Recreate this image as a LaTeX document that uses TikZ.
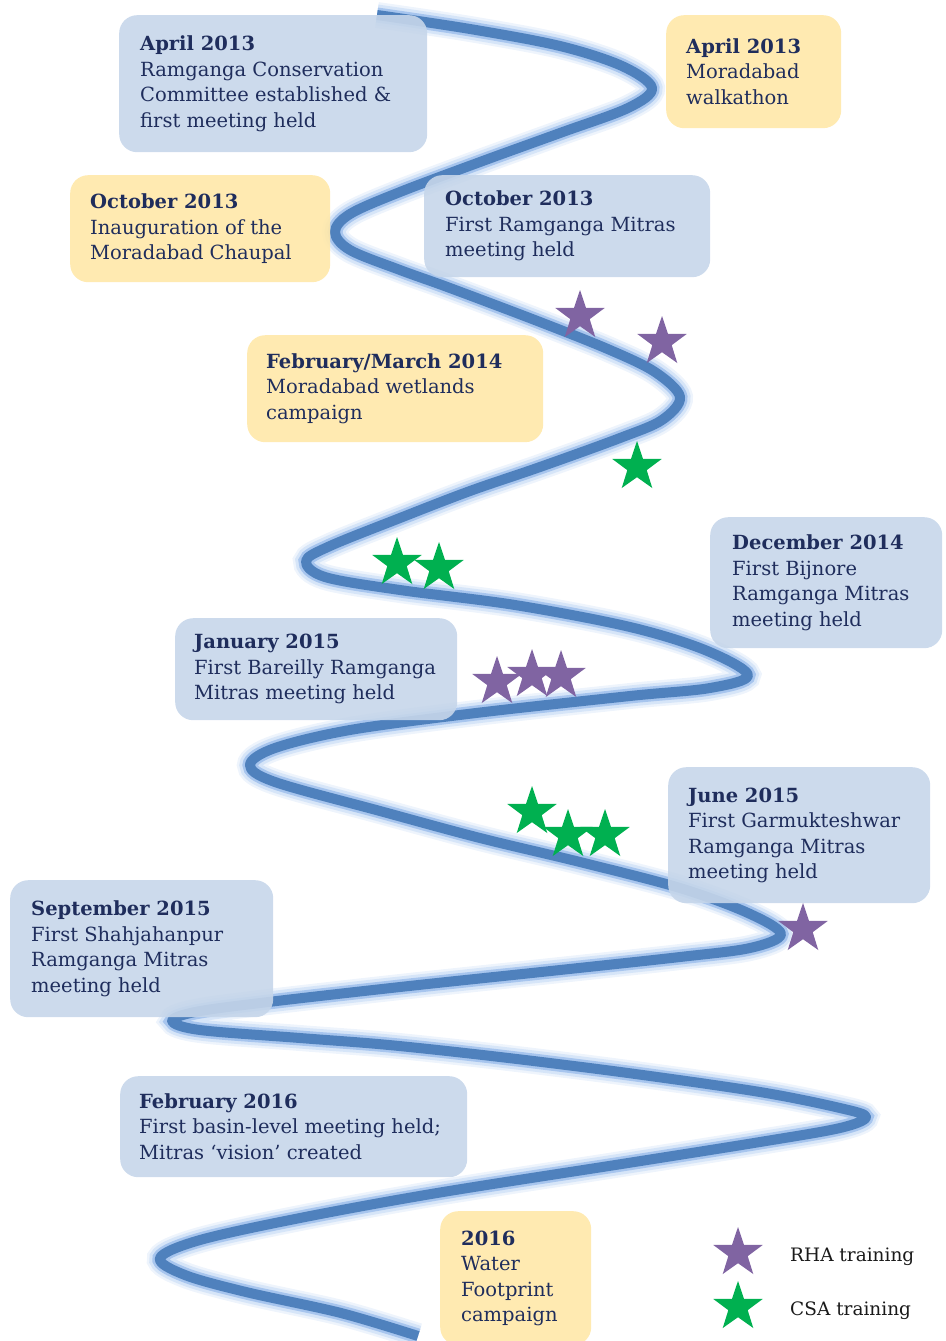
\documentclass[tikz,border=0pt]{standalone}
\usepackage{fontspec}
\setmainfont{DejaVu Serif}
\usetikzlibrary{shapes.geometric}
\definecolor{boxblue}{HTML}{C6D6EA}
\definecolor{boxyellow}{HTML}{FFE8A9}
\definecolor{navy}{HTML}{1F2D5C}
\definecolor{riverblue}{HTML}{4F81BD}
\definecolor{glowO}{HTML}{EEF4FC}
\definecolor{glowA}{HTML}{D6E5F8}
\definecolor{glowB}{HTML}{A7C5EE}
\definecolor{rhacol}{HTML}{8064A2}
\definecolor{csacol}{HTML}{00B050}
\definecolor{legtext}{HTML}{1A1A1A}
\tikzset{
  evbox/.style={draw=none, rounded corners=18pt, inner sep=0pt, anchor=north west, fill opacity=0.9},
  bluebox/.style={evbox, fill=boxblue},
  yellowbox/.style={evbox, fill=boxyellow},
  evtext/.style={align=left, inner sep=0pt, anchor=west, text=navy, font=\fontsize{19.5}{25.5}\selectfont},
  starshape/.style={star, star points=5, star point ratio=2.55, minimum size=52pt, inner sep=0pt, draw=none},
  rhastar/.style={starshape, fill=rhacol},
  csastar/.style={starshape, fill=csacol},
  legendlabel/.style={anchor=west, inner sep=0pt, text=legtext, font=\fontsize{18.5}{20}\selectfont},
  riverline/.style={line width=10pt, color=riverblue, line cap=butt, line join=round,
    preaction={draw, line width=26pt, color=glowO},
    preaction={draw, line width=21pt, color=glowA},
    preaction={draw, line width=15pt, color=glowB}}
}
\begin{document}
\begin{tikzpicture}[x=1pt, y=-1pt]
\path[use as bounding box] (0,0) rectangle (945,1341);

% river
\draw[riverline] plot[smooth, tension=0.55] coordinates {
(377,15) (470,29) (560,46) (622,66) (652,88)
(628,108) (560,133) (480,162) (400,192) (350,214) (335,232)
(350,250) (400,270) (450,288) (540,322) (610,350) (655,372) (680,397)
(662,420) (620,438) (540,467) (470,491) (400,518) (330,546) (306,561)
(325,577) (400,590) (515,605) (630,627) (705,650) (748,675)
(710,688) (630,696) (476,713) (350,730) (275,748) (250,765)
(275,782) (380,811) (480,838) (580,862) (680,888) (748,913) (781,934)
(750,948) (680,957) (560,970) (400,987) (260,1003) (195,1012) (172,1021)
(200,1030) (300,1038) (389,1045) (500,1057) (628,1073) (760,1092) (840,1108) (866,1117)
(840,1128) (760,1142) (628,1163) (437,1193) (300,1218) (200,1240) (160,1258)
(185,1275) (246,1292) (341,1313) (418,1336)
};

% event boxes
\node[bluebox, minimum width=308, minimum height=137] (b1) at (119,15) {};
\node[evtext] (t1) at ([xshift=21pt]b1.west) {\textbf{April 2013}\\Ramganga Conservation\\Committee established \&\\first meeting held};

\node[yellowbox, minimum width=175, minimum height=113] (b2) at (666,15) {};
\node[evtext] (t2) at ([xshift=20pt]b2.west) {\textbf{April 2013}\\Moradabad\\walkathon};

\node[yellowbox, minimum width=260, minimum height=107] (b3) at (70,175) {};
\node[evtext] (t3) at ([xshift=20pt]b3.west) {\textbf{October 2013}\\Inauguration of the\\Moradabad Chaupal};

\node[bluebox, minimum width=286, minimum height=102] (b4) at (424,175) {};
\node[evtext] (t4) at ([xshift=21pt]b4.west) {\textbf{October 2013}\\First Ramganga Mitras\\meeting held};

\node[yellowbox, minimum width=296, minimum height=107] (b5) at (247,335) {};
\node[evtext] (t5) at ([xshift=19pt]b5.west) {\textbf{February/March 2014}\\Moradabad wetlands\\campaign};

\node[bluebox, minimum width=232, minimum height=131] (b6) at (710,517) {};
\node[evtext] (t6) at ([xshift=22pt]b6.west) {\textbf{December 2014}\\First Bijnore\\Ramganga Mitras\\meeting held};

\node[bluebox, minimum width=282, minimum height=102] (b7) at (175,618) {};
\node[evtext] (t7) at ([xshift=19pt]b7.west) {\textbf{January 2015}\\First Bareilly Ramganga\\Mitras meeting held};

\node[bluebox, minimum width=262, minimum height=136] (b8) at (668,767) {};
\node[evtext] (t8) at ([xshift=20pt]b8.west) {\textbf{June 2015}\\First Garmukteshwar\\Ramganga Mitras\\meeting held};

\node[bluebox, minimum width=263, minimum height=137] (b9) at (10,880) {};
\node[evtext] (t9) at ([xshift=21pt]b9.west) {\textbf{September 2015}\\First Shahjahanpur\\Ramganga Mitras\\meeting held};

\node[bluebox, minimum width=347, minimum height=101] (b10) at (120,1076) {};
\node[evtext] (t10) at ([xshift=19pt]b10.west) {\textbf{February 2016}\\First basin-level meeting held;\\Mitras ‘vision’ created};

\node[yellowbox, minimum width=151, minimum height=134] (b11) at (440,1211) {};
\node[evtext] (t11) at ([xshift=21pt]b11.west) {\textbf{2016}\\Water\\Footprint\\campaign};

% training stars
\node[rhastar] (r1) at (580,316) {};
\node[rhastar] (r2) at (662,342) {};
\node[csastar] (c1) at (637,467) {};
\node[csastar] (c2) at (397,563) {};
\node[csastar] (c3) at (439,568) {};
\node[rhastar] (r3) at (497,682) {};
\node[rhastar] (r4) at (532,675) {};
\node[rhastar] (r5) at (561,676) {};
\node[csastar] (c4) at (532,812) {};
\node[csastar] (c5) at (568,835) {};
\node[csastar] (c6) at (605,835) {};
\node[rhastar] (r6) at (803,929) {};

% legend
\node[rhastar] (lr) at (738,1253) {};
\node[legendlabel] (lrt) at (790,1257) {RHA training};
\node[csastar] (lc) at (738,1307) {};
\node[legendlabel] (lct) at (790,1311) {CSA training};
\end{tikzpicture}
\end{document}
